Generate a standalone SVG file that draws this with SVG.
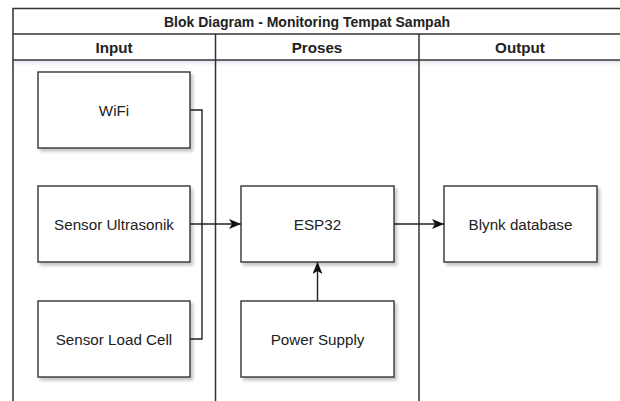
<svg xmlns="http://www.w3.org/2000/svg" width="620" height="401" viewBox="0 0 620 401">
<defs>
<style>
.frame{fill:none;stroke:#333;stroke-width:1.5}
.box{fill:#fff;stroke:#333;stroke-width:1.4;filter:url(#sh)}
.lbl{font-family:"Liberation Sans",Arial,sans-serif;font-size:15.2px;fill:#222;text-anchor:middle;dominant-baseline:central}
.hdr{font-family:"Liberation Sans",Arial,sans-serif;font-size:15.2px;font-weight:bold;fill:#222;text-anchor:middle;dominant-baseline:central}
.conn{fill:none;stroke:#222;stroke-width:1.4}
</style>
<filter id="sh" x="-10%" y="-10%" width="130%" height="130%">
<feDropShadow dx="2.5" dy="3" stdDeviation="1.8" flood-color="#000" flood-opacity="0.22"/>
</filter>
<linearGradient id="hs" x1="0" y1="0" x2="0" y2="1">
<stop offset="0" stop-color="#d8dae6" stop-opacity="0.8"/>
<stop offset="1" stop-color="#ffffff" stop-opacity="0"/>
</linearGradient>
<marker id="arr" viewBox="0 0 12 10" refX="12" refY="5" markerWidth="12" markerHeight="10" markerUnits="userSpaceOnUse" orient="auto">
<path d="M0,0 L12,5 L0,10 L3,5 Z" fill="#111"/>
</marker>
</defs>
<rect width="620" height="401" fill="#fff"/>
<g id="swimlane">
<rect x="13" y="60.5" width="610" height="8" fill="url(#hs)"/>
<rect class="frame" x="13" y="8.5" width="610" height="400"/>
<line class="frame" x1="13" y1="34" x2="623" y2="34"/>
<line class="frame" x1="13" y1="60" x2="623" y2="60"/>
<line class="frame" x1="215.5" y1="34" x2="215.5" y2="410"/>
<line class="frame" x1="419" y1="34" x2="419" y2="410"/>
<text class="hdr" x="307" y="21.5" style="font-size:14px">Blok Diagram - Monitoring Tempat Sampah</text>
<text class="hdr" x="114" y="47">Input</text>
<text class="hdr" x="317" y="47">Proses</text>
<text class="hdr" x="520" y="47">Output</text>
</g>
<g id="connectors">
<polyline class="conn" points="190,110 202,110 202,339 190,339"/>
<line class="conn" x1="190" y1="224" x2="241" y2="224" marker-end="url(#arr)"/>
<line class="conn" x1="394" y1="224" x2="444" y2="224" marker-end="url(#arr)"/>
<line class="conn" x1="317.5" y1="301" x2="317.5" y2="262" marker-end="url(#arr)"/>
</g>
<g id="wifi"><rect class="box" x="38" y="72" width="152" height="76"/><text class="lbl" x="114" y="110">WiFi</text></g>
<g id="ultrasonik"><rect class="box" x="38" y="186" width="152" height="76"/><text class="lbl" x="114" y="224">Sensor Ultrasonik</text></g>
<g id="loadcell"><rect class="box" x="38" y="301" width="152" height="76"/><text class="lbl" x="114" y="339">Sensor Load Cell</text></g>
<g id="esp32"><rect class="box" x="241" y="186" width="153" height="76"/><text class="lbl" x="317.5" y="224">ESP32</text></g>
<g id="power"><rect class="box" x="241" y="301" width="153" height="76"/><text class="lbl" x="317.5" y="339">Power Supply</text></g>
<g id="blynk"><rect class="box" x="444" y="186" width="153" height="76"/><text class="lbl" x="520.5" y="224">Blynk database</text></g>
</svg>
